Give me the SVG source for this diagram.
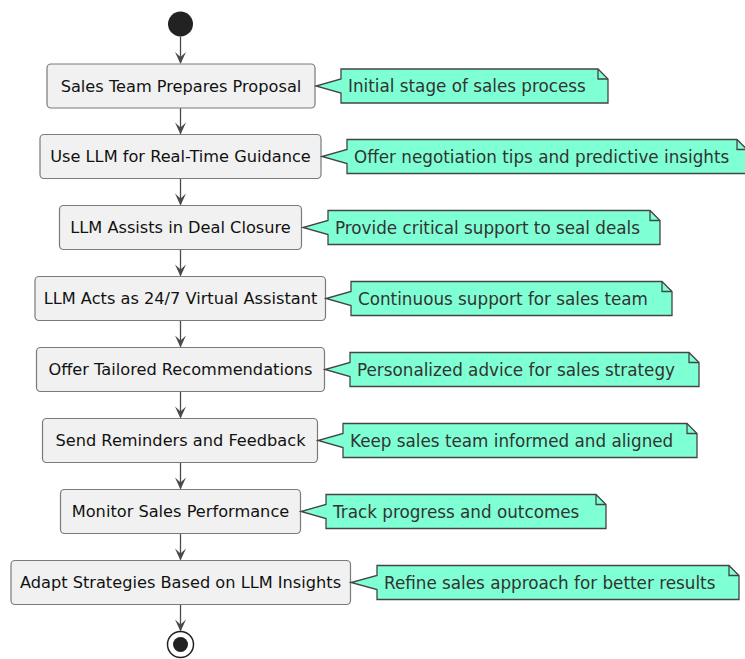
<svg xmlns="http://www.w3.org/2000/svg" width="745" height="659" viewBox="0 0 745 659">
<style>
.box{fill:#F1F1F1;stroke:#7a7a7a;stroke-width:1.2}
.bt{font-family:"DejaVu Sans",sans-serif;font-size:16.2px;fill:#111;text-anchor:middle}
.note{fill:#7FFFD4;stroke:#444;stroke-width:1.3}
.fold{fill:none;stroke:#444;stroke-width:1.3}
.nt{font-family:"DejaVu Sans",sans-serif;font-size:16.8px;fill:#333}
.edge{stroke:#4a4a4a;stroke-width:1.3;fill:none}
.ah{fill:#4a4a4a}
</style>
<rect width="745" height="659" fill="#fff"/>
<g id="start"><circle cx="180.5" cy="24" r="12.5" fill="#222"/></g>
<g id="connectors">
<line class="edge" x1="180.5" y1="36.5" x2="180.5" y2="63"/><polygon class="ah" points="175,52 180.5,64 186,52 180.5,57"/>
<line class="edge" x1="180.5" y1="108" x2="180.5" y2="133.5"/><polygon class="ah" points="175,122.5 180.5,134.5 186,122.5 180.5,127.5"/>
<line class="edge" x1="180.5" y1="178.5" x2="180.5" y2="204.5"/><polygon class="ah" points="175,193.5 180.5,205.5 186,193.5 180.5,198.5"/>
<line class="edge" x1="180.5" y1="249.5" x2="180.5" y2="275.5"/><polygon class="ah" points="175,264.5 180.5,276.5 186,264.5 180.5,269.5"/>
<line class="edge" x1="180.5" y1="320.5" x2="180.5" y2="346.5"/><polygon class="ah" points="175,335.5 180.5,347.5 186,335.5 180.5,340.5"/>
<line class="edge" x1="180.5" y1="391.5" x2="180.5" y2="417.5"/><polygon class="ah" points="175,406.5 180.5,418.5 186,406.5 180.5,411.5"/>
<line class="edge" x1="180.5" y1="462.5" x2="180.5" y2="488.5"/><polygon class="ah" points="175,477.5 180.5,489.5 186,477.5 180.5,482.5"/>
<line class="edge" x1="180.5" y1="533.5" x2="180.5" y2="559.5"/><polygon class="ah" points="175,548.5 180.5,560.5 186,548.5 180.5,553.5"/>
<line class="edge" x1="180.5" y1="604.5" x2="180.5" y2="630.5"/><polygon class="ah" points="175,619.5 180.5,631.5 186,619.5 180.5,624.5"/>
</g>
<g id="n1"><rect class="box" x="47" y="64" width="268" height="44" rx="4"/><text class="bt" x="181" y="91.5">Sales Team Prepares Proposal</text></g>
<g id="n2"><rect class="box" x="40" y="134.5" width="281" height="44" rx="4"/><text class="bt" x="180.5" y="162">Use LLM for Real-Time Guidance</text></g>
<g id="n3"><rect class="box" x="59.5" y="205.5" width="242" height="44" rx="4"/><text class="bt" x="180.5" y="233">LLM Assists in Deal Closure</text></g>
<g id="n4"><rect class="box" x="35" y="276.5" width="290.5" height="44" rx="4"/><text class="bt" x="180.5" y="304">LLM Acts as 24/7 Virtual Assistant</text></g>
<g id="n5"><rect class="box" x="36.5" y="347.5" width="288" height="44" rx="4"/><text class="bt" x="180.5" y="375">Offer Tailored Recommendations</text></g>
<g id="n6"><rect class="box" x="42.5" y="418.5" width="275" height="44" rx="4"/><text class="bt" x="180.5" y="446">Send Reminders and Feedback</text></g>
<g id="n7"><rect class="box" x="60.5" y="489.5" width="240" height="44" rx="4"/><text class="bt" x="180.5" y="517">Monitor Sales Performance</text></g>
<g id="n8"><rect class="box" x="11" y="560.5" width="339.5" height="44" rx="4"/><text class="bt" x="180.5" y="588">Adapt Strategies Based on LLM Insights</text></g>
<g id="note1"><path class="note" d="M341,69 L341,79 L316,86 L341,93 L341,103 L608,103 L608,79 L598,69 Z"/><path class="fold" d="M598,69 L598,79 L608,79"/><text class="nt" x="348" y="92">Initial stage of sales process</text></g>
<g id="note2"><path class="note" d="M347,139.5 L347,149.5 L322,156.5 L347,163.5 L347,173.5 L747,173.5 L747,149.5 L737,139.5 Z"/><path class="fold" d="M737,139.5 L737,149.5 L747,149.5"/><text class="nt" x="354" y="162.5">Offer negotiation tips and predictive insights</text></g>
<g id="note3"><path class="note" d="M328,210.5 L328,220.5 L303,227.5 L328,234.5 L328,244.5 L660,244.5 L660,220.5 L650,210.5 Z"/><path class="fold" d="M650,210.5 L650,220.5 L660,220.5"/><text class="nt" x="335" y="233.5">Provide critical support to seal deals</text></g>
<g id="note4"><path class="note" d="M351,281.5 L351,291.5 L326,298.5 L351,305.5 L351,315.5 L672,315.5 L672,291.5 L662,281.5 Z"/><path class="fold" d="M662,281.5 L662,291.5 L672,291.5"/><text class="nt" x="358" y="304.5">Continuous support for sales team</text></g>
<g id="note5"><path class="note" d="M350,352.5 L350,362.5 L325,369.5 L350,376.5 L350,386.5 L699,386.5 L699,362.5 L689,352.5 Z"/><path class="fold" d="M689,352.5 L689,362.5 L699,362.5"/><text class="nt" x="357" y="375.5">Personalized advice for sales strategy</text></g>
<g id="note6"><path class="note" d="M343,423.5 L343,433.5 L318,440.5 L343,447.5 L343,457.5 L697,457.5 L697,433.5 L687,423.5 Z"/><path class="fold" d="M687,423.5 L687,433.5 L697,433.5"/><text class="nt" x="350" y="446.5">Keep sales team informed and aligned</text></g>
<g id="note7"><path class="note" d="M326,494.5 L326,504.5 L301,511.5 L326,518.5 L326,528.5 L606,528.5 L606,504.5 L596,494.5 Z"/><path class="fold" d="M596,494.5 L596,504.5 L606,504.5"/><text class="nt" x="333" y="517.5">Track progress and outcomes</text></g>
<g id="note8"><path class="note" d="M377,565.5 L377,575.5 L351,582.5 L377,589.5 L377,599.5 L739,599.5 L739,575.5 L729,565.5 Z"/><path class="fold" d="M729,565.5 L729,575.5 L739,575.5"/><text class="nt" x="384" y="588.5">Refine sales approach for better results</text></g>
<g id="end"><circle cx="180.5" cy="644.5" r="13" fill="#fff" stroke="#222" stroke-width="1.5"/><circle cx="180.5" cy="644.5" r="7.5" fill="#222"/></g>
</svg>
